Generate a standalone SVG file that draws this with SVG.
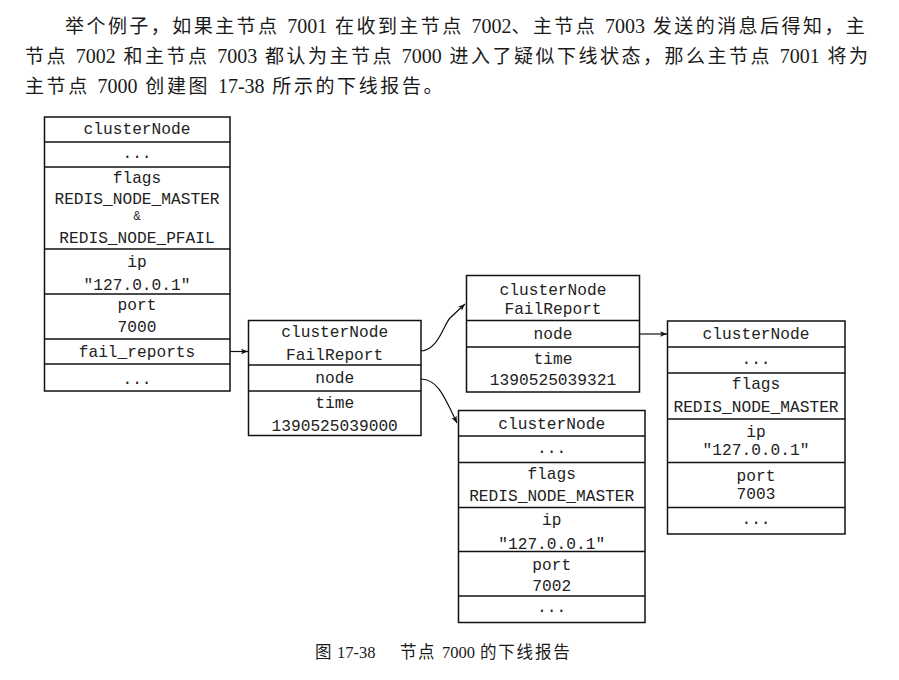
<svg xmlns="http://www.w3.org/2000/svg" width="899" height="680" viewBox="0 0 899 680">
<style>
.box{fill:#fff;stroke:#111;stroke-width:1.5}
.div{stroke:#111;stroke-width:1.5}
.m{font-family:"Liberation Mono","DejaVu Sans Mono",monospace;font-size:16.2px;fill:#222;text-anchor:middle}
.cn{font-family:"Liberation Serif","Noto Sans CJK SC",serif;fill:#1a1a1a;font-size:19px;word-spacing:3px}
.c{font-family:"Noto Sans CJK SC",sans-serif}
.n{letter-spacing:0;font-size:20px}
.con{fill:none;stroke:#111;stroke-width:1.2}
</style>
<defs>
<marker id="ah" viewBox="0 0 10 10" refX="10" refY="5" markerWidth="9" markerHeight="7" markerUnits="userSpaceOnUse" orient="auto">
<path d="M0,1 L10,5 L0,9 L2.5,5 Z" fill="#111"/>
</marker>
</defs>
<rect width="899" height="680" fill="#fff"/>
<g id="paragraph">
<text class="cn" x="65" y="33" xml:space="preserve"><tspan class="c" letter-spacing="2.45">举个例子，如果主节点</tspan> <tspan class="n">7001</tspan> <tspan class="c" letter-spacing="2.45">在收到主节点</tspan> <tspan class="n">7002</tspan><tspan class="c" letter-spacing="2.45">、主节点</tspan> <tspan class="n">7003</tspan> <tspan class="c" letter-spacing="2.45">发送的消息后得知，主</tspan></text>
<text class="cn" x="25" y="63" xml:space="preserve"><tspan class="c" letter-spacing="2.5">节点</tspan> <tspan class="n">7002</tspan> <tspan class="c" letter-spacing="2.5">和主节点</tspan> <tspan class="n">7003</tspan> <tspan class="c" letter-spacing="2.5">都认为主节点</tspan> <tspan class="n">7000</tspan> <tspan class="c" letter-spacing="2.5">进入了疑似下线状态，那么主节点</tspan> <tspan class="n">7001</tspan> <tspan class="c" letter-spacing="2.5">将为</tspan></text>
<text class="cn" x="25" y="93" xml:space="preserve"><tspan class="c" letter-spacing="2.6">主节点</tspan> <tspan class="n">7000</tspan> <tspan class="c" letter-spacing="2.6">创建图</tspan> <tspan class="n">17-38</tspan> <tspan class="c" letter-spacing="2.6">所示的下线报告。</tspan></text>
</g>
<g id="node7000">
<rect class="box" x="44.5" y="117" width="185.5" height="274"/>
<line class="div" x1="44.5" y1="142" x2="230" y2="142"/>
<line class="div" x1="44.5" y1="167" x2="230" y2="167"/>
<line class="div" x1="44.5" y1="249" x2="230" y2="249"/>
<line class="div" x1="44.5" y1="294" x2="230" y2="294"/>
<line class="div" x1="44.5" y1="339" x2="230" y2="339"/>
<line class="div" x1="44.5" y1="364" x2="230" y2="364"/>
<text class="m" x="137" y="134">clusterNode</text>
<text class="m" x="137" y="158">...</text>
<text class="m" x="137" y="183">flags</text>
<text class="m" x="137" y="203.5">REDIS_NODE_MASTER</text>
<text class="m" x="137" y="220" style="font-size:12px">&amp;</text>
<text class="m" x="137" y="243">REDIS_NODE_PFAIL</text>
<text class="m" x="137" y="267">ip</text>
<text class="m" x="137" y="290">"127.0.0.1"</text>
<text class="m" x="137" y="310">port</text>
<text class="m" x="137" y="332">7000</text>
<text class="m" x="137" y="357">fail_reports</text>
<text class="m" x="137" y="384">...</text>
</g>
<g id="failreport1">
<rect class="box" x="248.5" y="320.5" width="172.5" height="115"/>
<line class="div" x1="248.5" y1="365" x2="421" y2="365"/>
<line class="div" x1="248.5" y1="391" x2="421" y2="391"/>
<text class="m" x="334.7" y="337">clusterNode</text>
<text class="m" x="334.7" y="359.5">FailReport</text>
<text class="m" x="334.7" y="383">node</text>
<text class="m" x="334.7" y="407.5">time</text>
<text class="m" x="334.7" y="431">1390525039000</text>
</g>
<g id="failreport2">
<rect class="box" x="466.5" y="275.5" width="173" height="116.5"/>
<line class="div" x1="466.5" y1="320.5" x2="639.5" y2="320.5"/>
<line class="div" x1="466.5" y1="347" x2="639.5" y2="347"/>
<text class="m" x="553" y="294.5">clusterNode</text>
<text class="m" x="553" y="314">FailReport</text>
<text class="m" x="553" y="339">node</text>
<text class="m" x="553" y="363.5">time</text>
<text class="m" x="553" y="385">1390525039321</text>
</g>
<g id="node7003">
<rect class="box" x="667.5" y="321" width="177.5" height="213"/>
<line class="div" x1="667.5" y1="347" x2="845" y2="347"/>
<line class="div" x1="667.5" y1="373" x2="845" y2="373"/>
<line class="div" x1="667.5" y1="419" x2="845" y2="419"/>
<line class="div" x1="667.5" y1="462.5" x2="845" y2="462.5"/>
<line class="div" x1="667.5" y1="507.5" x2="845" y2="507.5"/>
<text class="m" x="756" y="339">clusterNode</text>
<text class="m" x="756" y="364">...</text>
<text class="m" x="756" y="389">flags</text>
<text class="m" x="756" y="412">REDIS_NODE_MASTER</text>
<text class="m" x="756" y="437">ip</text>
<text class="m" x="756" y="455">"127.0.0.1"</text>
<text class="m" x="756" y="481">port</text>
<text class="m" x="756" y="499">7003</text>
<text class="m" x="756" y="524">...</text>
</g>
<g id="node7002">
<rect class="box" x="458.5" y="410.5" width="186.5" height="212"/>
<line class="div" x1="458.5" y1="436" x2="645" y2="436"/>
<line class="div" x1="458.5" y1="462.5" x2="645" y2="462.5"/>
<line class="div" x1="458.5" y1="507.5" x2="645" y2="507.5"/>
<line class="div" x1="458.5" y1="551.5" x2="645" y2="551.5"/>
<line class="div" x1="458.5" y1="596" x2="645" y2="596"/>
<text class="m" x="551.7" y="428.5">clusterNode</text>
<text class="m" x="551.7" y="453">...</text>
<text class="m" x="551.7" y="478.5">flags</text>
<text class="m" x="551.7" y="500.5">REDIS_NODE_MASTER</text>
<text class="m" x="551.7" y="525">ip</text>
<text class="m" x="551.7" y="548.5">"127.0.0.1"</text>
<text class="m" x="551.7" y="569.5">port</text>
<text class="m" x="551.7" y="591">7002</text>
<text class="m" x="551.7" y="612">...</text>
</g>
<g id="connectors">
<path class="con" d="M230,351.5 L248,351.5" marker-end="url(#ah)"/>
<path class="con" d="M421,351 C438,350 443,326 450,318 L465,304" marker-end="url(#ah)"/>
<path class="con" d="M421,379 C438,379 445,398 457,423" marker-end="url(#ah)"/>
<path class="con" d="M639.5,334 L667,334" marker-end="url(#ah)"/>
</g>
<g id="caption">
<text class="cn" y="658" style="font-size:16.5px"><tspan class="c" x="315">图</tspan><tspan x="337">17-38</tspan><tspan class="c" x="400" letter-spacing="1.5">节点</tspan><tspan x="442">7000</tspan><tspan class="c" x="480" letter-spacing="1.8">的下线报告</tspan></text>
</g>
</svg>
